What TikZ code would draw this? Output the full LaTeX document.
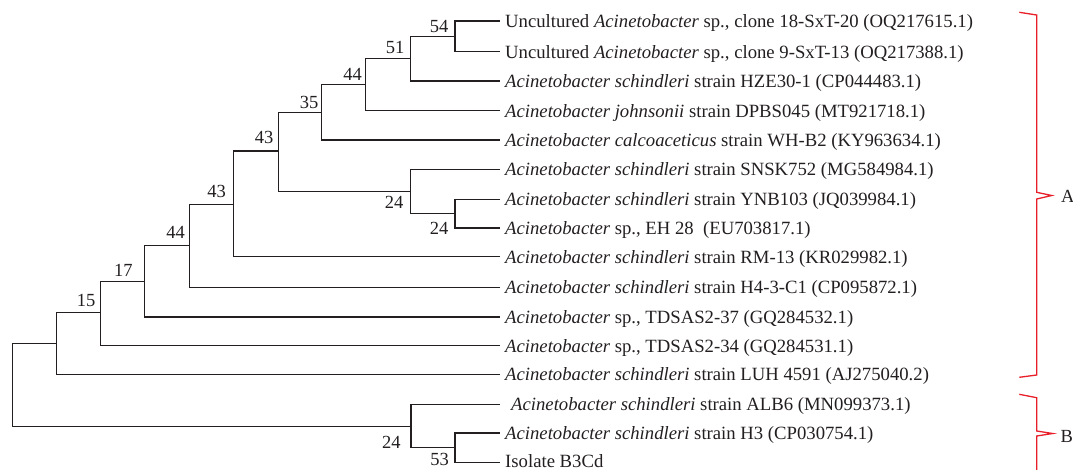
\documentclass[tikz,border=0pt]{standalone}
\usepackage{fontspec}
\setmainfont{Liberation Serif}
\definecolor{brk}{RGB}{232,30,40}
\definecolor{ink}{RGB}{35,31,32}
\begin{document}
\begin{tikzpicture}[x=1pt,y=-1pt,
  branch/.style={draw=ink,line width=1.3pt,line cap=rect},
  leaflbl/.style={anchor=base west,inner sep=0pt,text=ink,font=\fontsize{18.7}{22}\selectfont},
  boot/.style={inner sep=0pt,text=ink,font=\fontsize{18.5}{22}\selectfont},
  bracket/.style={draw=brk,line width=1.3pt},
  grp/.style={anchor=west,inner sep=0pt,text=ink,font=\fontsize{18.5}{22}\selectfont}]
\useasboundingbox (0,0) rectangle (1073,469);
% leaves
\coordinate (l1) at (499,21);
\coordinate (l2) at (499,51.7);
\coordinate (l3) at (499,81);
\coordinate (l4) at (499,110.7);
\coordinate (l5) at (499,140);
\coordinate (l6) at (499,169.3);
\coordinate (l7) at (499,199.3);
\coordinate (l8) at (499,228);
\coordinate (l9) at (499,256.7);
\coordinate (l10) at (499,287.3);
\coordinate (l11) at (499,317);
\coordinate (l12) at (499,345.7);
\coordinate (l13) at (499,374.3);
\coordinate (l14) at (499,404.3);
\coordinate (l15) at (499,433);
\coordinate (l16) at (499,462.3);
% internal nodes
\coordinate (n54) at (455,36.3);
\coordinate (n51) at (410.7,58.7);
\coordinate (n44a) at (365.7,84.7);
\coordinate (n35) at (321.7,112.3);
\coordinate (n24b) at (455,213.7);
\coordinate (n24a) at (410.7,191.5);
\coordinate (n43a) at (278.3,151);
\coordinate (n43b) at (233.3,204.5);
\coordinate (n44b) at (189.3,245.5);
\coordinate (n17) at (144.3,281.2);
\coordinate (n15) at (100.3,312.8);
\coordinate (nX) at (56.7,343.5);
\coordinate (n53) at (455,447.7);
\coordinate (nB) at (411,426.5);
\coordinate (root) at (12.3,385);
% branches
\draw[branch] (l1) -| (n54) |- (l2);
\draw[branch] (n54) -| (n51) |- (l3);
\draw[branch] (n51) -| (n44a) |- (l4);
\draw[branch] (n44a) -| (n35) |- (l5);
\draw[branch] (l7) -| (n24b) |- (l8);
\draw[branch] (l6) -| (n24a) |- (n24b);
\draw[branch] (n35) -| (n43a) |- (n24a);
\draw[branch] (n43a) -| (n43b) |- (l9);
\draw[branch] (n43b) -| (n44b) |- (l10);
\draw[branch] (n44b) -| (n17) |- (l11);
\draw[branch] (n17) -| (n15) |- (l12);
\draw[branch] (n15) -| (nX) |- (l13);
\draw[branch] (l15) -| (n53) |- (l16);
\draw[branch] (l14) -| (nB) |- (n53);
\draw[branch] (nX) -| (root) |- (nB);
% leaf labels
\node[leaflbl] (t1) at (505,27.3) {Uncultured \textit{Acinetobacter} sp., clone 18-SxT-20 (OQ217615.1)};
\node[leaflbl] (t2) at (505,58.0) {Uncultured \textit{Acinetobacter} sp., clone 9-SxT-13 (OQ217388.1)};
\node[leaflbl] (t3) at (505,87.3) {\textit{Acinetobacter schindleri} strain HZE30-1 (CP044483.1)};
\node[leaflbl] (t4) at (505,117.0) {\textit{Acinetobacter johnsonii} strain DPBS045 (MT921718.1)};
\node[leaflbl] (t5) at (505,146.3) {\textit{Acinetobacter calcoaceticus} strain WH-B2 (KY963634.1)};
\node[leaflbl] (t6) at (505,175.6) {\textit{Acinetobacter schindleri} strain SNSK752 (MG584984.1)};
\node[leaflbl] (t7) at (505,205.6) {\textit{Acinetobacter schindleri} strain YNB103 (JQ039984.1)};
\node[leaflbl] (t8) at (505,234.3) {\textit{Acinetobacter} sp., EH 28\ \ (EU703817.1)};
\node[leaflbl] (t9) at (505,263.0) {\textit{Acinetobacter schindleri} strain RM-13 (KR029982.1)};
\node[leaflbl] (t10) at (505,293.6) {\textit{Acinetobacter schindleri} strain H4-3-C1 (CP095872.1)};
\node[leaflbl] (t11) at (505,323.3) {\textit{Acinetobacter} sp., TDSAS2-37 (GQ284532.1)};
\node[leaflbl] (t12) at (505,352.0) {\textit{Acinetobacter} sp., TDSAS2-34 (GQ284531.1)};
\node[leaflbl] (t13) at (505,380.6) {\textit{Acinetobacter schindleri} strain LUH 4591 (AJ275040.2)};
\node[leaflbl] (t14) at (511,410.6) {\textit{Acinetobacter schindleri} strain ALB6 (MN099373.1)};
\node[leaflbl] (t15) at (505,439.3) {\textit{Acinetobacter schindleri} strain H3 (CP030754.1)};
\node[leaflbl] (t16) at (505,467.6) {Isolate B3Cd};
% bootstrap values
\node[boot] (b54) at (439,26.2) {54};
\node[boot] (b51) at (395,47.5) {51};
\node[boot] (b44a) at (352.5,74.5) {44};
\node[boot] (b35) at (309,102) {35};
\node[boot] (b43a) at (264,137.8) {43};
\node[boot] (b24a) at (394,202.8) {24};
\node[boot] (b24b) at (439,228) {24};
\node[boot] (b43b) at (216.7,191.2) {43};
\node[boot] (b44b) at (175.5,232) {44};
\node[boot] (b17) at (123.3,270) {17};
\node[boot] (b15) at (86,300.8) {15};
\node[boot] (bB) at (391.3,442.5) {24};
\node[boot] (b53) at (439.7,459.7) {53};
% group brackets
\draw[bracket] (1019.3,12.3) -- (1036.7,15) -- (1036.7,192.3) -- (1051.7,195.5) -- (1036.7,199) -- (1036.7,375) -- (1019.3,377.3);
\draw[bracket] (1019.3,394.3) -- (1036.7,397.7) -- (1036.7,431) -- (1052.7,433.5) -- (1036.7,436) -- (1036.7,470);
\node[grp] (gA) at (1061,196.7) {A};
\node[grp] (gB) at (1060.5,436.7) {B};
\end{tikzpicture}
\end{document}
